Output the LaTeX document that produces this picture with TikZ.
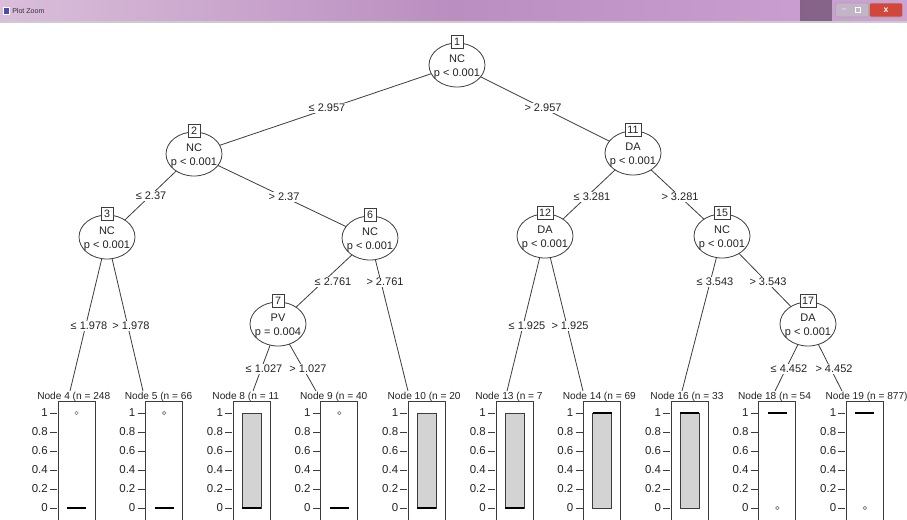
\documentclass[tikz,border=0pt]{standalone}
\usepackage{fontspec}
\setmainfont{Liberation Sans}
\usetikzlibrary{shapes.geometric,backgrounds}
\definecolor{ln}{RGB}{60,60,60}
\definecolor{txt}{RGB}{35,35,35}
\definecolor{gfill}{RGB}{211,211,211}
\definecolor{barL}{RGB}{218,190,218}
\definecolor{barM}{RGB}{186,142,192}
\definecolor{barR}{RGB}{206,162,212}
\definecolor{btnG}{RGB}{196,180,200}
\definecolor{btnR}{RGB}{210,70,60}
\definecolor{darkP}{RGB}{90,60,90}
\newcommand\fs[1]{\fontsize{#1}{#1}\selectfont}
\newcommand\inode[7]{% name, x, y, number, variable, p-text, box width
  \node[ell] (#1) at (#2,#3) {};
  \node[ntxt] at (#2,#3-6) {#5};
  \node[ntxt] at (#2,#3+9) {#6};
  \node[numbox,minimum width=#7] (#1b) at (#2,#3-23) {#4};
}
\newcommand\tpanel[4]{% name, left, type, label
  \node[plab,anchor=west] (#1) at (#2-21,397) {#4};
  \draw[frame] (#2,530) -- (#2,401) -- (#2+37,401) -- (#2+37,530);
  \foreach \yv/\yl in {0/0,0.2/0.2,0.4/0.4,0.6/0.6,0.8/0.8,1/1}{
    \draw[tickl] (#2-8,508-95*\yv) -- (#2-1,508-95*\yv);
    \node[tlab] at (#2-10,508-95*\yv) {\yl};
  }
  \ifcase#3
    \draw[med] (#2+9,508) -- (#2+28,508);
    \draw[outl] (#2+18.5,413) circle[radius=1.3pt];
  \or
    \draw[gbox] (#2+9,413) rectangle (#2+28,508);
    \draw[med] (#2+9,508) -- (#2+28,508);
  \or
    \draw[gbox] (#2+9,413) rectangle (#2+28,508);
    \draw[med] (#2+9,413) -- (#2+28,413);
  \or
    \draw[med] (#2+9,413) -- (#2+28,413);
    \draw[outl] (#2+18.5,508) circle[radius=1.3pt];
  \fi
}
\begin{document}
\begin{tikzpicture}[x=0.75pt,y=-0.75pt,
  ell/.style={ellipse,draw=ln,fill=white,line width=0.6pt,minimum width=42pt,minimum height=33pt,inner sep=0pt},
  numbox/.style={draw=ln,fill=white,line width=0.6pt,font=\fs{8},inner sep=1pt,minimum height=9.75pt,text=txt},
  ntxt/.style={font=\fs{8.25},inner sep=0pt,text=txt},
  elab/.style={font=\fs{8.25},fill=white,inner sep=0.8pt,text=txt},
  edge/.style={draw=ln,line width=0.6pt},
  plab/.style={font=\fs{7.6},inner sep=0pt,text=txt},
  tlab/.style={font=\fs{8.6},inner sep=0pt,text=txt,anchor=east},
  tickl/.style={draw=ln,line width=0.6pt},
  frame/.style={draw=ln,line width=0.6pt},
  gbox/.style={draw=ln,fill=gfill,line width=0.6pt},
  med/.style={draw=black,line width=1.6pt},
  outl/.style={draw=gray,line width=0.5pt},
]
\useasboundingbox (0,0) rectangle (907,519);
\clip (0,0) rectangle (907,519);

% window title bar
\shade[left color=barL,right color=barR,middle color=barM] (0,0) rectangle (907,21);
\fill[darkP,opacity=0.6] (800,0) rectangle (832,21);
\fill[gray!40] (0,21) rectangle (907,22.5);
\node[draw=white,fill=blue!40!gray,minimum width=4.5pt,minimum height=5pt,inner sep=0pt] (ico) at (6,11) {};
\node[font=\fs{5.3},anchor=west,inner sep=0pt,text=black!80] (ttl) at (12,11) {Plot Zoom};
\node[fill=btnG,draw=gray!70,minimum width=25pt,minimum height=10.5pt,inner sep=0pt,rounded corners=1pt] (btns) at (852,10) {};
\node[font=\fs{6},inner sep=0pt,text=white] (bmin) at (844,10) {--};
\node[draw=white,minimum width=4pt,minimum height=3.5pt,inner sep=0pt] (bmax) at (858,10) {};
\node[fill=btnR,draw=gray!60,minimum width=25pt,minimum height=10.5pt,inner sep=0pt,rounded corners=1pt] (bcls) at (886,10) {};
\node[font=\bfseries\fs{6.5},inner sep=0pt,text=white] (bx) at (886,10) {x};

% inner nodes
\inode{n1}{457}{65}{1}{NC}{p < 0.001}{9pt}
\inode{n2}{194}{154}{2}{NC}{p < 0.001}{9pt}
\inode{n11}{633}{153}{11}{DA}{p < 0.001}{12pt}
\inode{n3}{107}{237}{3}{NC}{p < 0.001}{9pt}
\inode{n6}{370}{238}{6}{NC}{p < 0.001}{9pt}
\inode{n12}{545}{236}{12}{DA}{p < 0.001}{12pt}
\inode{n15}{722}{236}{15}{NC}{p < 0.001}{12pt}
\inode{n7}{278}{324}{7}{PV}{p = 0.004}{9pt}
\inode{n17}{808}{324}{17}{DA}{p < 0.001}{12pt}

% terminal panels
\tpanel{t4}{58}{0}{Node 4 (n = 248}
\tpanel{t5}{145.6}{0}{Node 5 (n = 66}
\tpanel{t8}{233.2}{1}{Node 8 (n = 11}
\tpanel{t9}{320.8}{0}{Node 9 (n = 40}
\tpanel{t10}{408.4}{1}{Node 10 (n = 20}
\tpanel{t13}{496}{1}{Node 13 (n = 7}
\tpanel{t14}{583.6}{2}{Node 14 (n = 69}
\tpanel{t16}{671.2}{2}{Node 16 (n = 33}
\tpanel{t18}{758.8}{3}{Node 18 (n = 54}
\tpanel{t19}{846.4}{3}{Node 19 (n = 877)}

% connector end points above terminal panels
\coordinate (e4) at (70,391);
\coordinate (e5) at (143,391);
\coordinate (e8) at (253,391);
\coordinate (e9) at (316,391);
\coordinate (e10) at (408,391);
\coordinate (e13) at (507,391);
\coordinate (e14) at (583,391);
\coordinate (e16) at (682,391);
\coordinate (e18) at (775,391);
\coordinate (e19) at (842,391);

\begin{pgfonlayer}{background}
\draw[edge] (n1.center) -- (n2.center);
\draw[edge] (n1.center) -- (n11.center);
\draw[edge] (n2.center) -- (n3.center);
\draw[edge] (n2.center) -- (n6.center);
\draw[edge] (n11.center) -- (n12.center);
\draw[edge] (n11.center) -- (n15.center);
\draw[edge] (n6.center) -- (n7.center);
\draw[edge] (n15.center) -- (n17.center);
\draw[edge] (n3.center) -- (e4);
\draw[edge] (n3.center) -- (e5);
\draw[edge] (n7.center) -- (e8);
\draw[edge] (n7.center) -- (e9);
\draw[edge] (n6.center) -- (e10);
\draw[edge] (n12.center) -- (e13);
\draw[edge] (n12.center) -- (e14);
\draw[edge] (n15.center) -- (e16);
\draw[edge] (n17.center) -- (e18);
\draw[edge] (n17.center) -- (e19);
\node[elab] (l1) at (327,108) {≤ 2.957};
\node[elab] (l2) at (543,108) {> 2.957};
\node[elab] (l3) at (151,196) {≤ 2.37};
\node[elab] (l4) at (284,197) {> 2.37};
\node[elab] (l5) at (592,197) {≤ 3.281};
\node[elab] (l6) at (680,197) {> 3.281};
\node[elab] (l7) at (333,282) {≤ 2.761};
\node[elab] (l8) at (385,282) {> 2.761};
\node[elab] (l9) at (715,282) {≤ 3.543};
\node[elab] (l10) at (768,282) {> 3.543};
\node[elab] (l11) at (89,326) {≤ 1.978};
\node[elab] (l12) at (131,326) {> 1.978};
\node[elab] (l13) at (527,326) {≤ 1.925};
\node[elab] (l14) at (570,326) {> 1.925};
\node[elab] (l15) at (264,369) {≤ 1.027};
\node[elab] (l16) at (308,369) {> 1.027};
\node[elab] (l17) at (789,369) {≤ 4.452};
\node[elab] (l18) at (834,369) {> 4.452};
\end{pgfonlayer}
\end{tikzpicture}
\end{document}
